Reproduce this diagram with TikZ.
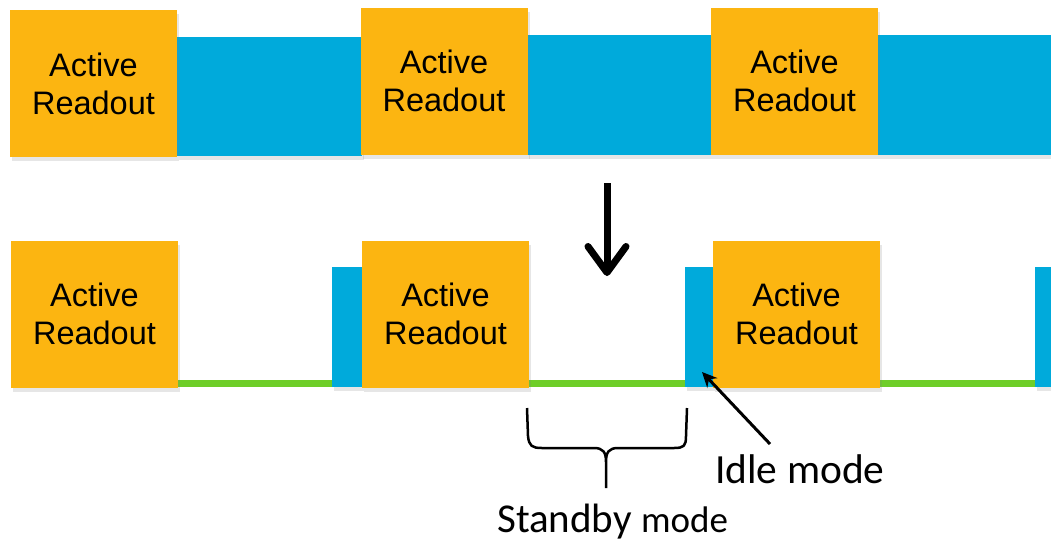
\documentclass[tikz,border=0pt]{standalone}
\usepackage{fontspec}
\setmainfont{Liberation Sans}
\newfontfamily\calibri{Carlito}
\usetikzlibrary{arrows.meta,shadows}
\definecolor{ro}{RGB}{252,181,17}
\definecolor{bl}{RGB}{0,170,219}
\definecolor{gr}{RGB}{110,206,40}
\tikzset{
  sh/.style={drop shadow={opacity=0.2,shadow xshift=2pt,shadow yshift=-4pt}},
  readout/.style={fill=ro, minimum width=167pt, minimum height=147pt, inner sep=0pt,
    align=center, font=\fontsize{32.5}{38}\selectfont, sh},
  idlebox/.style={fill=bl, inner sep=0pt, sh},
  standbyline/.style={fill=gr, inner sep=0pt, minimum height=7pt},
  bigarrow/.style={line width=7pt, -{Straight Barb[length=26pt,width=38pt,round]}},
  ptr/.style={line width=3pt, -{Stealth[length=15pt,width=14pt]}},
  lbl/.style={inner sep=0pt, anchor=base west},
}
\begin{document}
\begin{tikzpicture}[x=1pt,y=-1pt]
\useasboundingbox (0,0) rectangle (1051,542);
% top row
\node[idlebox, minimum width=185pt, minimum height=119pt] (tb1) at (269.5,96.5) {};
\node[idlebox, minimum width=184pt, minimum height=120pt] (tb2) at (619,95) {};
\node[idlebox, minimum width=173pt, minimum height=120pt] (tb3) at (964.5,95) {};
\node[readout] (ta1) at (93.5,83.5) {Active\\Readout};
\node[readout] (ta2) at (444,81) {Active\\Readout};
\node[readout] (ta3) at (794.5,81) {Active\\Readout};
% arrow
\coordinate (arrs) at (607,183);
\coordinate (arre) at (607,276);
\draw[bigarrow] (arrs) -- (arre);
% bottom row
\node[standbyline, minimum width=154pt] (g1) at (255,383.5) {};
\node[standbyline, minimum width=156pt] (g2) at (607,383.5) {};
\node[standbyline, minimum width=155pt] (g3) at (957.5,383.5) {};
\node[idlebox, minimum width=30pt, minimum height=120pt] (b1) at (347,327) {};
\node[idlebox, minimum width=28pt, minimum height=120pt] (b2) at (699,327) {};
\node[idlebox, minimum width=32pt, minimum height=120pt] (b3) at (1051,327) {};
\node[readout] (a1) at (94.5,314) {Active\\Readout};
\node[readout] (a2) at (445.5,314) {Active\\Readout};
\node[readout] (a3) at (796.5,314) {Active\\Readout};
% labels
\node[lbl, font=\calibri\fontsize{41.5}{48}\selectfont] (idle) at (715,483) {Idle mode};
\node[lbl, font=\calibri\fontsize{41}{48}\selectfont] (standby) at (497,532) {Standby {\fontsize{37}{42}\selectfont mode}};
\coordinate (idletail) at (770,444);
\coordinate (idletip) at (702,372);
\draw[ptr] (idletail) -- (idletip);
% brace
\draw[line width=2.5pt, line join=round]
  (527,408) -- (528,436) .. controls (529,446) and (532,448) .. (542,448)
  -- (594,448) .. controls (603,448) and (606,452) .. (606,462) -- (606,488)
  (606,462) .. controls (606,452) and (609,448) .. (618,448)
  -- (674,448) .. controls (684,448) and (686,446) .. (686,436) -- (687,408);
\end{tikzpicture}
\end{document}
